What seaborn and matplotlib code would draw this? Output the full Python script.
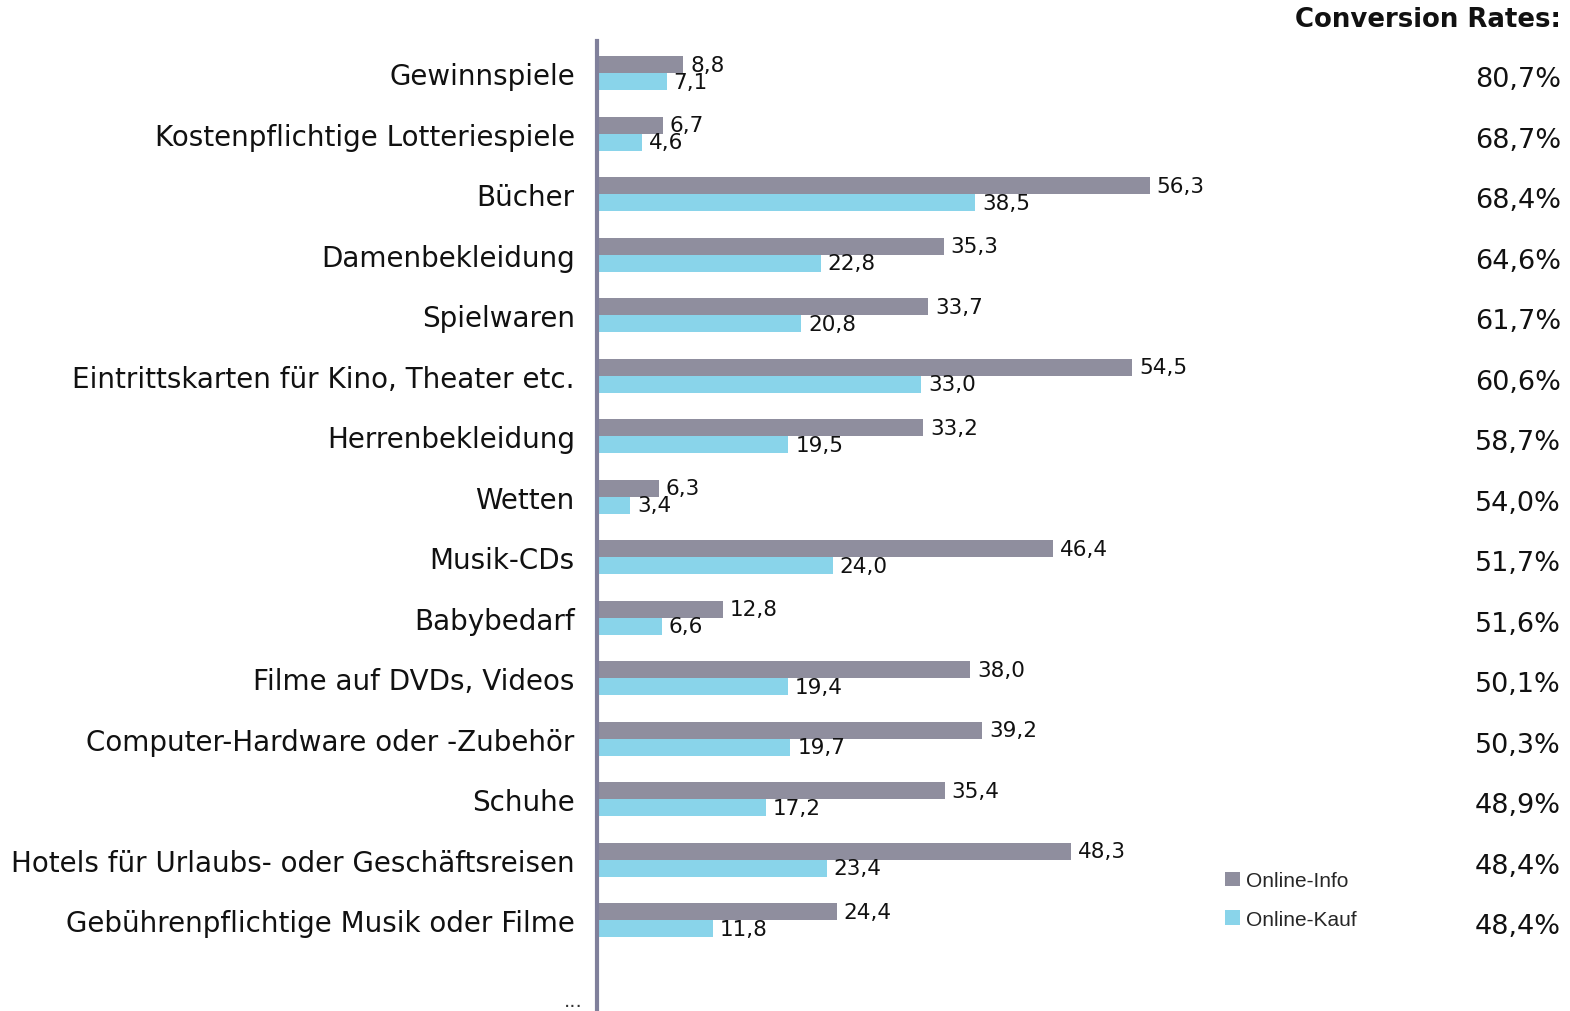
import matplotlib
matplotlib.use("Agg")
import matplotlib.pyplot as plt
import matplotlib.transforms as mtransforms
from matplotlib.font_manager import FontProperties
import pandas as pd
import seaborn as sns

categories = [
    "Gewinnspiele",
    "Kostenpflichtige Lotteriespiele",
    "Bücher",
    "Damenbekleidung",
    "Spielwaren",
    "Eintrittskarten für Kino, Theater etc.",
    "Herrenbekleidung",
    "Wetten",
    "Musik-CDs",
    "Babybedarf",
    "Filme auf DVDs, Videos",
    "Computer-Hardware oder -Zubehör",
    "Schuhe",
    "Hotels für Urlaubs- oder Geschäftsreisen",
    "Gebührenpflichtige Musik oder Filme",
]
online_info = [8.8, 6.7, 56.3, 35.3, 33.7, 54.5, 33.2, 6.3, 46.4, 12.8, 38.0, 39.2, 35.4, 48.3, 24.4]
online_kauf = [7.1, 4.6, 38.5, 22.8, 20.8, 33.0, 19.5, 3.4, 24.0, 6.6, 19.4, 19.7, 17.2, 23.4, 11.8]
conversion_rates = [80.7, 68.7, 68.4, 64.6, 61.7, 60.6, 58.7, 54.0, 51.7, 51.6, 50.1, 50.3, 48.9, 48.4, 48.4]
series_names = ["Online-Info", "Online-Kauf"]

GRAY = "#8f8e9e"
BLUE = "#89d4ea"
AXIS_COLOR = "#80809b"


def de_num(v: float) -> str:
    return f"{v:.1f}".replace(".", ",")


df = pd.DataFrame({
    "Kategorie": categories * 2,
    "Serie": [series_names[0]] * len(categories) + [series_names[1]] * len(categories),
    "Wert": online_info + online_kauf,
})

sns.set_style("white")
plt.rcParams["font.family"] = ["DejaVu Sans"]

fig = plt.figure(figsize=(15.7, 10.12), dpi=100)
ax = fig.add_axes([597 / 1570, 0.0, (1539 - 597) / 1570, 1 - 42 / 1012])

sns.barplot(
    data=df, y="Kategorie", x="Wert", hue="Serie", order=categories,
    hue_order=series_names, palette=[GRAY, BLUE], width=0.56, saturation=1,
    linewidth=0, orient="h", errorbar=None, ax=ax,
)

ax.set_xlim(0, 942 / 9.82)
ax.set_ylim(15.5, -0.53)
ax.set_xlabel("")
ax.set_ylabel("")
ax.set_xticks([])
ax.set_yticks(range(len(categories)))
ax.set_yticklabels(categories, fontsize=20, color="#111111")
ax.tick_params(axis="y", length=0, pad=16)
for lbl in ax.get_yticklabels():
    lbl.set_y(lbl.get_position()[1])

for s in ["top", "right", "bottom"]:
    ax.spines[s].set_visible(False)
ax.spines["left"].set_color(AXIS_COLOR)
ax.spines["left"].set_linewidth(3)

for cont, vals in zip(ax.containers, [online_info, online_kauf]):
    ax.bar_label(cont, labels=[de_num(v) for v in vals], padding=5,
                 fontsize=15.5, color="#111111")

ax.text(-0.015, 15.33, "...", transform=mtransforms.blended_transform_factory(ax.transAxes, ax.transData),
        ha="right", va="center", fontsize=14, color="#333333")

# conversion rates column on the right
trans = mtransforms.blended_transform_factory(fig.transFigure, ax.transData)
for i, r in enumerate(conversion_rates):
    ax.text(1561 / 1570, i + 0.1, de_num(r) + "%", transform=trans, ha="right", va="center",
            fontsize=19.5, color="#111111", clip_on=False)

fig.text(1561 / 1570, 1 - 20 / 1012, "Conversion Rates:", ha="right", va="center",
         fontsize=18.7, fontweight="bold", color="#111111")

handles, labels = ax.get_legend_handles_labels()
ax.legend(handles, labels, loc="center left", bbox_to_anchor=(1215 / 1570, 1 - 901 / 1012),
          bbox_transform=fig.transFigure, frameon=False, borderpad=0,
          prop=FontProperties(family="Liberation Sans", size=15), handlelength=0.7,
          handleheight=0.7, handletextpad=0.3, labelspacing=0.95)

fig.savefig("out.png", dpi=100)
plt.close(fig)
